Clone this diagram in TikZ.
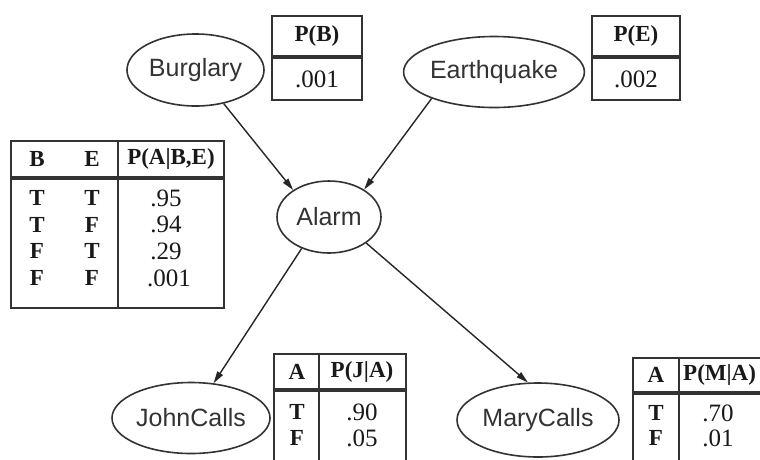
\documentclass[tikz,border=0pt]{standalone}
\usepackage{fontspec}
\setmainfont{Liberation Serif}
\newfontfamily\labelfont{Liberation Sans}
\usetikzlibrary{arrows.meta,shapes.geometric}
\begin{document}
\begin{tikzpicture}[x=1pt,y=-1pt,
  var/.style={ellipse, draw=black!80, line width=1.6pt, inner sep=0pt,
    font=\labelfont\fontsize{25}{30}\selectfont, text=black!80},
  edge/.style={draw=black!85, line width=1.4pt, -{Triangle[length=12pt,width=6.5pt]}},
  tbl/.style={draw=black!80, line width=1.8pt},
  sepline/.style={draw=black!80, line width=4pt},
  cell/.style={inner sep=0pt, font=\fontsize{25}{28}\selectfont, text=black!90},
  head/.style={inner sep=0pt, font=\bfseries\fontsize{23}{26}\selectfont, text=black!90}
]
\useasboundingbox (0,0) rectangle (760,459);
\fill[white] (0,0) rectangle (760,459);
\clip (0,0) rectangle (760,459);

% variables
\node[var, minimum width=137pt, minimum height=72pt] (burglary) at (195.5,70) {Burglary};
\node[var, minimum width=178pt, minimum height=71pt] (earthquake) at (494,72) {Earthquake};
\node[var, minimum width=104pt, minimum height=72pt] (alarm) at (329,217) {Alarm};
\node[var, minimum width=158pt, minimum height=71pt] (john) at (191,418) {JohnCalls};
\node[var, minimum width=162pt, minimum height=74pt] (mary) at (538,420) {MaryCalls};

% edges
\draw[edge] (burglary.-50) -- (alarm.143);
\draw[edge] (earthquake.-157) -- (alarm.38);
\draw[edge] (alarm.-131) -- (john.57);
\draw[edge] (alarm.-35) -- (mary.105);

% P(B)
\draw[tbl] (272,16) rectangle (362,100);
\draw[sepline] (272,57) -- (362,57);
\node[head] (pbh) at (317,36) {P(B)};
\node[cell] (pbv) at (317,79) {.001};

% P(E)
\draw[tbl] (592,16) rectangle (680,100);
\draw[sepline] (592,57) -- (680,57);
\node[head] (peh) at (636,36) {P(E)};
\node[cell] (pev) at (636,79) {.002};

% P(A|B,E)
\draw[tbl] (11,141) rectangle (224,308);
\draw[sepline] (11,178) -- (224,178);
\draw[tbl] (118,141) -- (118,308);
\node[head] (ah1) at (37,159) {B};
\node[head] (ah2) at (92,159) {E};
\node[head] (ah3) at (171,159) {P(A|B,E)};
\node[head] (a11) at (37,198) {T};
\node[head] (a12) at (92,198) {T};
\node[cell] (a13) at (166,198) {.95};
\node[head] (a21) at (37,224.5) {T};
\node[head] (a22) at (92,224.5) {F};
\node[cell] (a23) at (166,224.5) {.94};
\node[head] (a31) at (37,251) {F};
\node[head] (a32) at (92,251) {T};
\node[cell] (a33) at (166,251) {.29};
\node[head] (a41) at (37,278) {F};
\node[head] (a42) at (92,278) {F};
\node[cell] (a43) at (169,278) {.001};

% P(J|A)
\draw[tbl] (274,354) rectangle (406,475);
\draw[sepline] (274,390) -- (406,390);
\draw[tbl] (319,354) -- (319,475);
\node[head] (jh1) at (297,372) {A};
\node[head] (jh2) at (362,372) {P(J|A)};
\node[head] (j11) at (297,412) {T};
\node[cell] (j12) at (362,412) {.90};
\node[head] (j21) at (297,438) {F};
\node[cell] (j22) at (362,438) {.05};

% P(M|A)
\draw[tbl] (633,358) rectangle (800,475);
\draw[sepline] (633,393) -- (800,393);
\draw[tbl] (679,358) -- (679,475);
\node[head] (mh1) at (656,375) {A};
\node[head, anchor=west] (mh2) at (683,375) {P(M|A)};
\node[head] (m11) at (656,413) {T};
\node[cell] (m12) at (718,413) {.70};
\node[head] (m21) at (656,438) {F};
\node[cell] (m22) at (718,438) {.01};
\end{tikzpicture}
\end{document}
